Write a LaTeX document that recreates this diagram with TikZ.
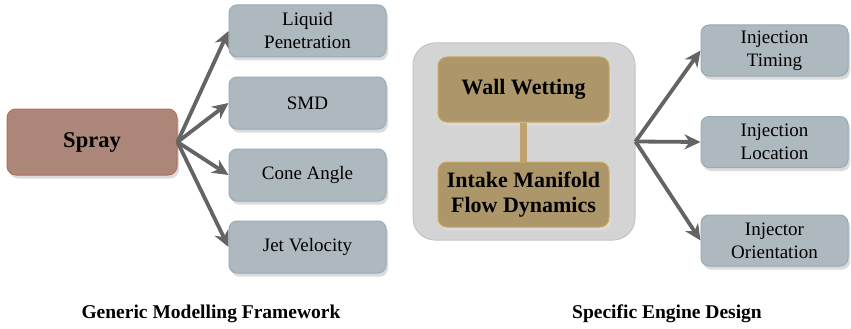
\documentclass[tikz,border=0pt]{standalone}
\usepackage{fontspec}
\setmainfont{Liberation Serif}
\usetikzlibrary{shadows,arrows.meta}
\definecolor{sprayfill}{RGB}{172,134,120}
\definecolor{spraydraw}{RGB}{180,110,85}
\definecolor{greyfill}{RGB}{173,185,191}
\definecolor{greydraw}{RGB}{150,172,184}
\definecolor{tanfill}{RGB}{173,151,106}
\definecolor{tandraw}{RGB}{200,168,96}
\definecolor{tanline}{RGB}{190,163,110}
\definecolor{contfill}{RGB}{212,212,212}
\definecolor{contdraw}{RGB}{196,196,196}
\definecolor{arrowcol}{RGB}{100,100,100}
\tikzset{
  x=1pt, y=-1pt,
  shad/.style={drop shadow={shadow xshift=2pt, shadow yshift=-3.5pt, fill=black!14, opacity=1}},
  spraybox/.style={shad, draw=spraydraw, line width=1pt, fill=sprayfill, rounded corners=9pt,
    minimum width=170pt, minimum height=66pt, align=center,
    font=\fontsize{22.5}{26}\selectfont\bfseries},
  itembox/.style={shad, draw=greydraw, line width=1pt, fill=greyfill, rounded corners=8pt,
    minimum width=157pt, minimum height=52pt, align=center,
    font=\fontsize{19}{23}\selectfont},
  ritembox/.style={itembox, minimum width=147pt, minimum height=51pt},
  tanbox/.style={shad, draw=tandraw, line width=1pt, fill=tanfill, rounded corners=9pt,
    minimum width=171pt, minimum height=65pt, align=center,
    font=\fontsize{22}{25}\selectfont\bfseries},
  container/.style={draw=contdraw, line width=1pt, fill=contfill, rounded corners=22pt,
    minimum width=222pt, minimum height=197pt},
  conn/.style={draw=arrowcol, line width=3.8pt, -{Stealth[length=16pt,width=15pt,inset=5pt]}},
  caption/.style={font=\fontsize{19.5}{23}\selectfont\bfseries}
}
\begin{document}
\begin{tikzpicture}
\useasboundingbox (0,0) rectangle (851,329);
% left part
\node[spraybox] (spray) at (92,142) {Spray};
\node[itembox] (lp) at (307.5,31) {Liquid\\Penetration};
\node[itembox] (smd) at (307.5,103) {SMD};
\node[itembox] (cone) at (307.5,175) {Cone Angle};
\node[itembox] (jet) at (307.5,247) {Jet Velocity};
\foreach \t in {lp,smd,cone,jet} \draw[conn] (spray.east) -- (\t.west);
% right part
\node[container] (cont) at (524,141.5) {};
\node[tanbox] (ww) at (523.5,89.5) {Wall Wetting};
\node[tanbox] (imf) at (523.5,194.5) {Intake Manifold\\Flow Dynamics};
\draw[tanline, line width=7pt] (ww.south) -- (imf.north);
\node[ritembox] (it) at (774.5,50.5) {Injection\\Timing};
\node[ritembox] (il) at (774.5,142) {Injection\\Location};
\node[ritembox] (io) at (774.5,240.5) {Injector\\Orientation};
\foreach \t in {it,il,io} \draw[conn] (cont.east) -- (\t.west);
% captions
\node[caption] (c1) at (211,314) {Generic Modelling Framework};
\node[caption] (c2) at (667,314) {Specific Engine Design};
\end{tikzpicture}
\end{document}
